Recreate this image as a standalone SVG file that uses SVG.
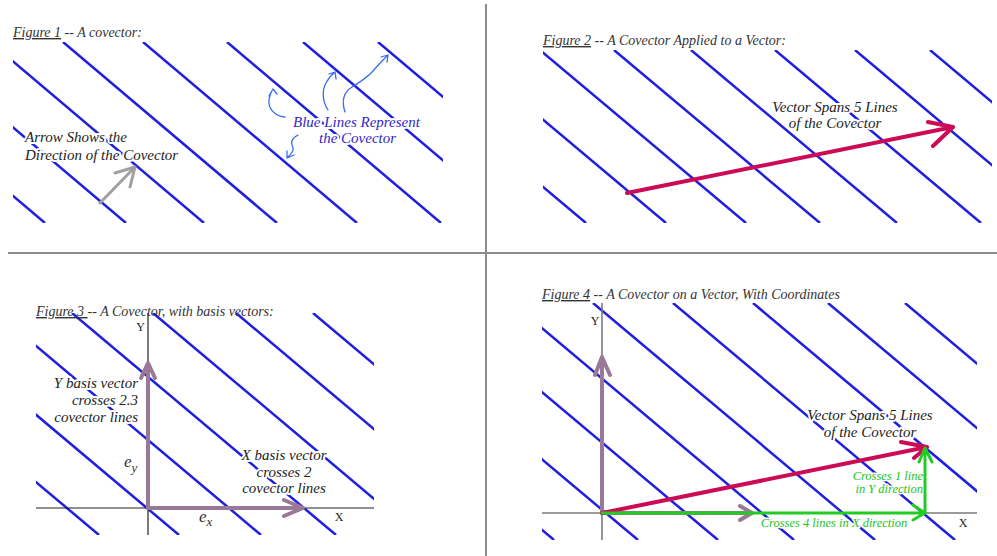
<svg xmlns="http://www.w3.org/2000/svg" width="997" height="556" viewBox="0 0 997 556">
<style>
  .bl { stroke:#1f1fe0; stroke-width:2.5; fill:none; }
  .div { stroke:#8c8c8c; stroke-width:2; }
  .title { font-family:"Liberation Serif", serif; font-style:italic; font-size:14px; fill:#333; }
  .lbl { font-family:"Liberation Serif", serif; font-style:italic; font-size:15px; fill:#222; paint-order:stroke; stroke:#fff; stroke-width:4px; stroke-linejoin:round; }
  .blu { font-family:"Liberation Serif", serif; font-style:italic; font-size:15px; fill:#3326c8; paint-order:stroke; stroke:#fff; stroke-width:4px; stroke-linejoin:round; }
  .grn { font-family:"Liberation Serif", serif; font-style:italic; font-size:12.5px; fill:#22c322; paint-order:stroke; stroke:#fff; stroke-width:3px; stroke-linejoin:round; }
  .ax { font-family:"Liberation Serif", serif; font-size:12px; fill:#222; }
  .math { font-family:"Liberation Serif", serif; font-style:italic; font-size:17px; fill:#333; }
  .curl { stroke:#3a6cf0; stroke-width:1.3; fill:none; stroke-linecap:round; stroke-linejoin:round; }
  .gray { stroke:#a0a0a0; stroke-width:3; fill:none; stroke-linecap:round; stroke-linejoin:round; }
  .red { stroke:#cc0a55; stroke-width:4; fill:none; stroke-linecap:round; stroke-linejoin:round; }
  .pur { stroke:#9a7897; stroke-width:4; fill:none; stroke-linecap:round; stroke-linejoin:round; }
  .gr { stroke:#22cc22; stroke-width:3; fill:none; stroke-linecap:round; stroke-linejoin:round; }
</style>
<defs>
  <clipPath id="c1"><rect x="13" y="42" width="430" height="181"/></clipPath>
  <clipPath id="c2"><rect x="543" y="50" width="449" height="173"/></clipPath>
  <clipPath id="c3"><rect x="36" y="313" width="338" height="222"/></clipPath>
  <clipPath id="c4"><rect x="542" y="303" width="435" height="237"/></clipPath>
</defs>
<rect width="997" height="556" fill="#fff"/>

<g id="dividers">
  <line class="div" x1="486" y1="4" x2="486" y2="556"/>
  <line class="div" x1="8" y1="253" x2="997" y2="253"/>
</g>

<!-- Figure 1 -->
<g id="fig1">
  <g id="fig1-lines" clip-path="url(#c1)">
    <line class="bl" x1="-169" y1="42" x2="45" y2="223"/>
    <line class="bl" x1="-88" y1="42" x2="126" y2="223"/>
    <line class="bl" x1="-10" y1="42" x2="204" y2="223"/>
    <line class="bl" x1="63" y1="42" x2="277" y2="223"/>
    <line class="bl" x1="143" y1="42" x2="357" y2="223"/>
    <line class="bl" x1="227" y1="42" x2="441" y2="223"/>
    <line class="bl" x1="303" y1="42" x2="517" y2="223"/>
    <line class="bl" x1="378" y1="42" x2="592" y2="223"/>
  </g>
  <text class="title" x="13" y="37"><tspan text-decoration="underline">Figure 1</tspan> -- A covector:</text>
  <text class="lbl" x="25" y="142">Arrow Shows the</text>
  <text class="lbl" x="25" y="160">Direction of the Covector</text>
  <text class="blu" x="293" y="127">Blue Lines Represent</text>
  <text class="blu" x="319" y="143">the Covector</text>
</g>

<!-- Figure 2 -->
<g id="fig2">
  <g id="fig2-lines" clip-path="url(#c2)">
    <line class="bl" x1="380" y1="50" x2="586" y2="223"/>
    <line class="bl" x1="460" y1="50" x2="666" y2="223"/>
    <line class="bl" x1="540" y1="50" x2="746" y2="223"/>
    <line class="bl" x1="614" y1="50" x2="820" y2="223"/>
    <line class="bl" x1="691" y1="50" x2="897" y2="223"/>
    <line class="bl" x1="775" y1="50" x2="981" y2="223"/>
    <line class="bl" x1="855" y1="50" x2="1061" y2="223"/>
    <line class="bl" x1="930" y1="50" x2="1136" y2="223"/>
  </g>
  <text class="title" x="543" y="45"><tspan text-decoration="underline">Figure 2</tspan> -- A Covector Applied to a Vector:</text>
  <text class="lbl" x="835" y="112" text-anchor="middle">Vector Spans 5 Lines</text>
  <text class="lbl" x="835" y="128" text-anchor="middle">of the Covector</text>
</g>

<!-- Figure 3 -->
<g id="fig3">
  <g id="fig3-lines" clip-path="url(#c3)">
    <line class="bl" x1="-165" y1="313" x2="99" y2="535"/>
    <line class="bl" x1="-85" y1="313" x2="179" y2="535"/>
    <line class="bl" x1="-3" y1="313" x2="261" y2="535"/>
    <line class="bl" x1="72" y1="313" x2="336" y2="535"/>
    <line class="bl" x1="153" y1="313" x2="417" y2="535"/>
    <line class="bl" x1="236" y1="313" x2="500" y2="535"/>
    <line class="bl" x1="313" y1="313" x2="577" y2="535"/>
  </g>
  <g id="fig3-axes">
    <line x1="148" y1="313" x2="148" y2="535" stroke="#222" stroke-width="1.2"/>
    <line x1="36" y1="508" x2="374" y2="508" stroke="#222" stroke-width="1.2"/>
    <text class="ax" x="145" y="331" text-anchor="end" font-size="11">Y</text>
    <text class="ax" x="339" y="521" text-anchor="middle">X</text>
  </g>
  <text class="title" x="36" y="316"><tspan text-decoration="underline">Figure 3 </tspan>-- A Covector, with basis vectors:</text>
  <text class="lbl" x="138" y="388" text-anchor="end">Y basis vector</text>
  <text class="lbl" x="138" y="405" text-anchor="end">crosses 2.3</text>
  <text class="lbl" x="138" y="422" text-anchor="end">covector lines</text>
  <text class="lbl" x="284" y="460" text-anchor="middle">X basis vector</text>
  <text class="lbl" x="284" y="477" text-anchor="middle">crosses 2</text>
  <text class="lbl" x="284" y="493" text-anchor="middle">covector lines</text>
  <text class="math" x="124" y="467">e<tspan font-size="13" dy="5">y</tspan></text>
  <text class="math" x="199" y="522">e<tspan font-size="13" dy="4">x</tspan></text>
</g>

<!-- Figure 4 -->
<g id="fig4">
  <g id="fig4-lines" clip-path="url(#c4)">
    <line class="bl" x1="272" y1="303" x2="554" y2="540"/>
    <line class="bl" x1="356" y1="303" x2="638" y2="540"/>
    <line class="bl" x1="436" y1="303" x2="718" y2="540"/>
    <line class="bl" x1="512" y1="303" x2="794" y2="540"/>
    <line class="bl" x1="593" y1="303" x2="875" y2="540"/>
    <line class="bl" x1="673" y1="303" x2="955" y2="540"/>
    <line class="bl" x1="753" y1="303" x2="1035" y2="540"/>
    <line class="bl" x1="828" y1="303" x2="1110" y2="540"/>
    <line class="bl" x1="905" y1="303" x2="1187" y2="540"/>
  </g>
  <g id="fig4-axes">
    <line x1="602" y1="303" x2="602" y2="540" stroke="#7a7a7a" stroke-width="1.6"/>
    <line x1="542" y1="513" x2="977" y2="513" stroke="#7a7a7a" stroke-width="1.6"/>
    <text class="ax" x="595" y="325" text-anchor="middle">Y</text>
    <text class="ax" x="963" y="527" text-anchor="middle" font-size="14">X</text>
  </g>
  <text class="title" x="542" y="299"><tspan text-decoration="underline">Figure 4</tspan> -- A Covector on a Vector, With Coordinates</text>
  <text class="lbl" x="870" y="420" text-anchor="middle">Vector Spans 5 Lines</text>
  <text class="lbl" x="870" y="437" text-anchor="middle">of the Covector</text>
  <text class="grn" x="923" y="480" text-anchor="end">Crosses 1 line</text>
  <text class="grn" x="923" y="493" text-anchor="end">in Y direction</text>
  <text class="grn" x="834" y="527" text-anchor="middle">Crosses 4 lines in X direction</text>
</g>

<g id="connectors">
  <path class="gray" d="M100,203 L135,167 M115,173 L135,167 L130,187"/>
  <path class="curl" d="M285,117 C274,116 268,108 269,100 C270,95 271,92 273,89 M269,96 L273,89 L277,94"/>
  <path class="curl" d="M328,110 C322,101 322,90 326,83 C328,79 331,75 335,72 M329,74 L335,72 L336,79"/>
  <path class="curl" d="M345,112 C341,100 344,92 352,87 C360,82 367,78 373,71 C378,65 383,60 388,55 M381,57 L388,55 L387,62"/>
  <path class="curl" d="M298,135 C290,139 291,144 293,148 C294,152 290,155 287,158 M287,151 L287,158 L294,155"/>
  <path class="red" d="M627,193 L953,127 M928,122 L953,127 L933,146"/>
  <path class="pur" d="M148,508 L148,363 M141,378 L148,363 L155,378"/>
  <path class="pur" d="M148,508 L303,508 M284,500 L303,508 L284,516"/>
  <path class="pur" d="M602,513 L602,357 M595,375 L602,357 L610,375"/>
  <path class="pur" d="M602,513 L752,513 M740,506 L752,513 L740,520"/>
  <path class="red" d="M602,513 L927,447 M901,442 L927,447 L914,458"/>
  <path class="gr" d="M602,513 L925,513 M913,505 L925,513 L913,520"/>
  <path class="gr" d="M925,513 L925,448 M919,462 L925,448 L932,462"/>
</g>
</svg>
